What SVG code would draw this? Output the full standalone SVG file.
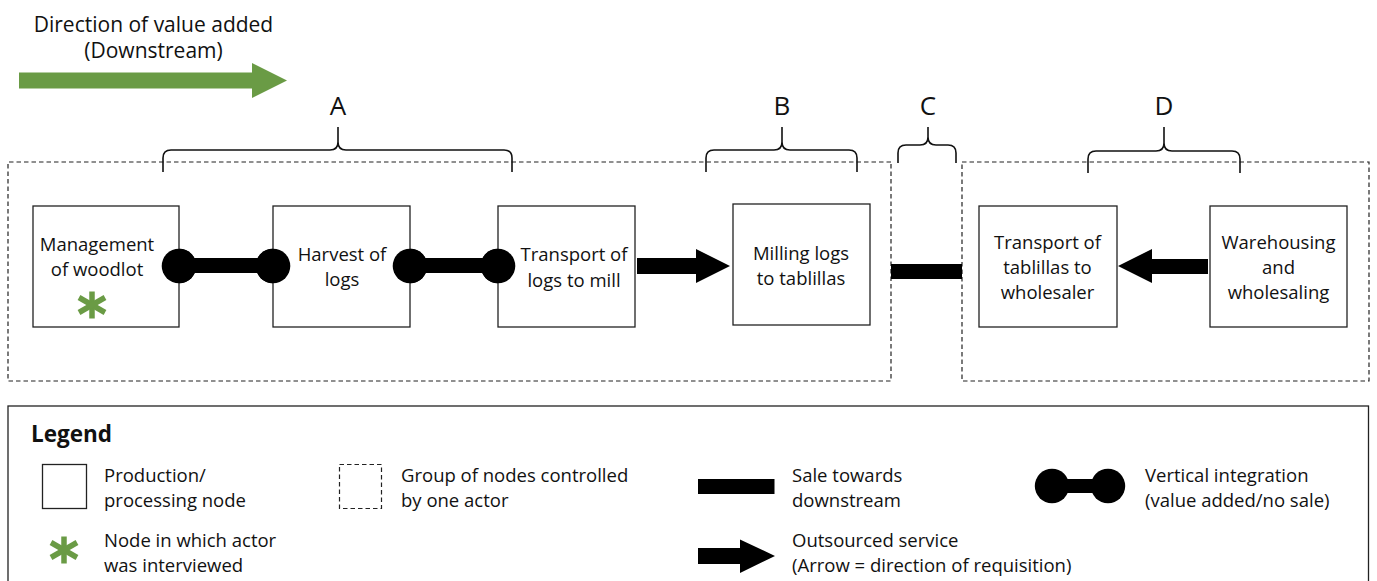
<svg xmlns="http://www.w3.org/2000/svg" width="1377" height="581" viewBox="0 0 1377 581">
<style>
text{font-family:"Open Sans","Noto Sans","Liberation Sans",sans-serif;fill:#111;}
.t{font-size:18.5px;text-anchor:middle;}
.lt{font-size:18.5px;}
.big{font-size:21px;text-anchor:middle;}
.let{font-size:26px;text-anchor:middle;}
.leg{font-size:22.5px;font-weight:bold;}
.node{fill:#fff;stroke:#222;stroke-width:1.3;}
.grp{fill:none;stroke:#222;stroke-width:1.2;stroke-dasharray:4.5 3;}
.brace{fill:none;stroke:#111;stroke-width:1.6;}
.blk{fill:#000;}
.star{stroke:#6a9b45;stroke-width:5.5;}
</style>
<defs>
<g id="star"><line class="star" x1="0" y1="-13.5" x2="0" y2="13.5"/><line class="star" x1="-13" y1="-7.5" x2="13" y2="7.5"/><line class="star" x1="-13" y1="7.5" x2="13" y2="-7.5"/></g>
</defs>
<rect width="1377" height="581" fill="#fff"/>

<g id="direction">
<text class="big" x="153.5" y="31.5">Direction of value added</text>
<text class="big" x="153.5" y="58">(Downstream)</text>
<polygon points="19,72.5 252,72.5 252,63 287,80.5 252,98 252,88.5 19,88.5" fill="#6a9b45"/>
</g>

<g id="groups">
<path class="grp" d="M891,162 H8 V381 H891 V162"/>
<path class="grp" d="M962,162 H1369 V381 H962 V162"/>
</g>

<g id="braces">
<path class="brace" d="M163,172 V158 Q163,150 171,150 H330 Q338,150 338,142 V127 M338,142 Q338,150 346,150 H504 Q512,150 512,158 V172"/>
<text class="let" x="338" y="115">A</text>
<path class="brace" d="M706,172 V158 Q706,150 714,150 H774 Q782,150 782,142 V127 M782,142 Q782,150 790,150 H849 Q857,150 857,158 V172"/>
<text class="let" x="782" y="114.5">B</text>
<path class="brace" d="M898,163 V153 Q898,145 906,145 H920 Q928,145 928,137 V127 M928,137 Q928,145 936,145 H948 Q956,145 956,153 V163"/>
<text class="let" x="928" y="114.5">C</text>
<path class="brace" d="M1088,173 V159 Q1088,151 1096,151 H1156 Q1164,151 1164,143 V127 M1164,143 Q1164,151 1172,151 H1232 Q1240,151 1240,159 V173"/>
<text class="let" x="1164" y="114.5">D</text>
</g>

<g id="connectors">
<rect class="blk" x="179" y="258" width="94" height="15"/>
<circle class="blk" cx="179" cy="266" r="17.3"/>
<circle class="blk" cx="273" cy="266" r="17.3"/>
<rect class="blk" x="410" y="258" width="88" height="15"/>
<circle class="blk" cx="410" cy="266" r="17.3"/>
<circle class="blk" cx="498" cy="266" r="17.3"/>
<polygon class="blk" points="637,258 696,258 696,249 730,266 696,283 696,274 637,274"/>
<rect class="blk" x="891" y="264" width="71" height="15"/>
<polygon class="blk" points="1208,259 1152,259 1152,249 1118,266 1152,283 1152,274 1208,274"/>
</g>

<g id="n1">
<rect class="node" x="33" y="206" width="146" height="121"/>
<circle class="blk" cx="179" cy="266" r="17.3"/>
<text class="t" x="97" y="251">Management</text>
<text class="t" x="97" y="276">of woodlot</text>
<use href="#star" x="92" y="305"/>
</g>
<g id="n2">
<rect class="node" x="273" y="206" width="137" height="121"/>
<circle class="blk" cx="273" cy="266" r="17.3"/>
<circle class="blk" cx="410" cy="266" r="17.3"/>
<text class="t" x="342" y="261">Harvest of</text>
<text class="t" x="342" y="286">logs</text>
</g>
<g id="n3">
<rect class="node" x="498" y="206" width="137" height="121"/>
<circle class="blk" cx="498" cy="266" r="17.3"/>
<text class="t" x="574" y="261">Transport of</text>
<text class="t" x="574" y="286.5">logs to mill</text>
</g>
<g id="n4">
<rect class="node" x="733" y="204" width="137" height="121"/>
<text class="t" x="801" y="259.5">Milling logs</text>
<text class="t" x="801" y="284.5">to tablillas</text>
</g>
<g id="n5">
<rect class="node" x="979" y="206" width="138" height="121"/>
<text class="t" x="1047.5" y="248.5">Transport of</text>
<text class="t" x="1047.5" y="274">tablillas to</text>
<text class="t" x="1047.5" y="299">wholesaler</text>
</g>
<g id="n6">
<rect class="node" x="1210" y="206" width="137" height="121"/>
<text class="t" x="1278.5" y="248.5">Warehousing</text>
<text class="t" x="1278.5" y="274">and</text>
<text class="t" x="1278.5" y="299">wholesaling</text>
</g>

<g id="legend">
<rect x="8" y="406" width="1360.5" height="190" fill="none" stroke="#222" stroke-width="1.3"/>
<text class="leg" x="31" y="442">Legend</text>
<rect class="node" x="42.5" y="464.5" width="44" height="44"/>
<text class="lt" x="104" y="481.5">Production/</text>
<text class="lt" x="104" y="506.5">processing node</text>
<rect class="grp" x="339.5" y="464.5" width="42" height="44"/>
<text class="lt" x="401" y="481.5">Group of nodes controlled</text>
<text class="lt" x="401" y="506.5">by one actor</text>
<rect class="blk" x="698" y="479" width="76.5" height="15"/>
<text class="lt" x="792" y="481.5">Sale towards</text>
<text class="lt" x="792" y="506.5">downstream</text>
<rect class="blk" x="1052" y="479" width="56" height="14"/>
<circle class="blk" cx="1052" cy="486" r="17.2"/>
<circle class="blk" cx="1108" cy="486" r="17.2"/>
<text class="lt" x="1145" y="481.5">Vertical integration</text>
<text class="lt" x="1145" y="506.5">(value added/no sale)</text>
<use href="#star" x="64" y="550"/>
<text class="lt" x="104" y="546.5">Node in which actor</text>
<text class="lt" x="104" y="571.5">was interviewed</text>
<polygon class="blk" points="698,548 740,548 740,539.5 775,556 740,573 740,564 698,564"/>
<text class="lt" x="792" y="546.5">Outsourced service</text>
<text class="lt" x="792" y="571.5">(Arrow = direction of requisition)</text>
</g>
</svg>
